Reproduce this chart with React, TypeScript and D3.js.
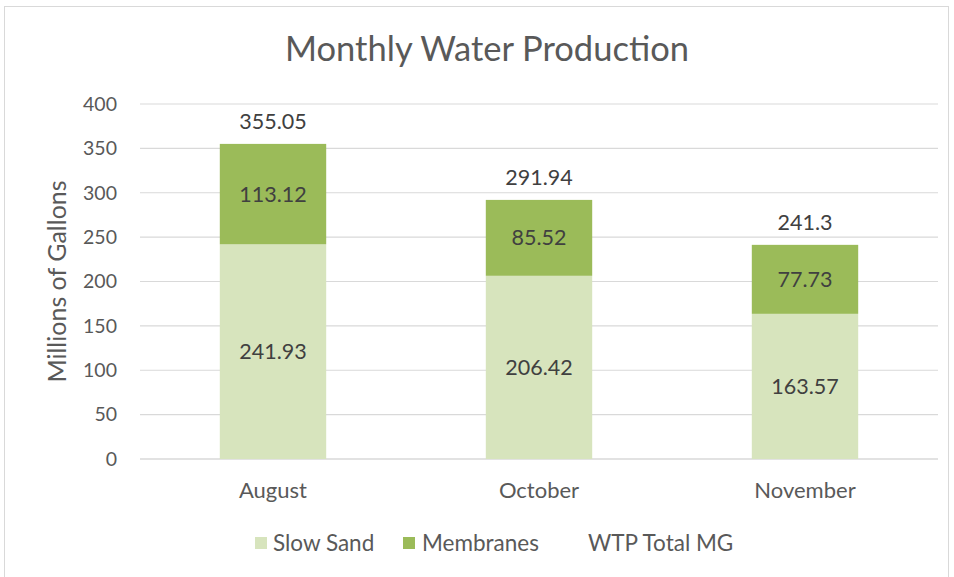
import React from "react";
import * as d3 from "d3";

const months = ["August", "October", "November"];
const slowSand = [241.93, 206.42, 163.57];
const membranes = [113.12, 85.52, 77.73];
const totals = [355.05, 291.94, 241.3];
const yTicks = [0, 50, 100, 150, 200, 250, 300, 350, 400];

const W = 954;
const H = 577;
const FONT = "Lato, 'Open Sans', sans-serif";
const SAND = "#D7E4BD";
const MEMB = "#9BBB59";

const App = () => {
  const x = d3.scaleBand().domain(months).range([140, 938]).paddingInner(0.6).paddingOuter(0.3);
  const y = d3.scaleLinear().domain([0, 400]).range([459, 104]);

  const stack = d3
    .stack<any>()
    .keys(["sand", "memb"])(months.map((m, i) => ({ m, sand: slowSand[i], memb: membranes[i] })));
  const fills = [SAND, MEMB];
  const vals = [slowSand, membranes];

  return (
    <svg width={W} height={H} style={{ position: "absolute", left: 0, top: 0 }} fontFamily={FONT}>
      <rect x={4.5} y={6.5} width={944} height={580} fill="#fff" stroke="#d9d9d9" />
      <text x={487} y={61} textAnchor="middle" fontSize={34.5} fill="#595959">
        Monthly Water Production
      </text>
      {yTicks.map((t) => (
        <g key={t}>
          <line x1={140} x2={938} y1={y(t)} y2={y(t)} stroke="#d9d9d9" strokeWidth={t === 0 ? 1.5 : 1.2} />
          <text x={117} y={y(t)} dy="0.35em" textAnchor="end" fontSize={19.5} fill="#595959">
            {t}
          </text>
        </g>
      ))}
      <text
        transform={`translate(66,${y(200)}) rotate(-90)`}
        textAnchor="middle"
        fontSize={25}
        fill="#595959"
      >
        Millions of Gallons
      </text>
      {stack.map((layer, li) =>
        layer.map((d, i) => (
          <g key={`${li}-${i}`}>
            <rect
              x={x(months[i])}
              y={y(d[1])}
              width={x.bandwidth()}
              height={y(d[0]) - y(d[1])}
              fill={fills[li]}
            />
            <text
              x={x(months[i])! + x.bandwidth() / 2}
              y={(y(d[0]) + y(d[1])) / 2}
              dy="0.35em"
              textAnchor="middle"
              fontSize={21.5}
              fill="#404040"
            >
              {vals[li][i]}
            </text>
          </g>
        ))
      )}
      {months.map((m, i) => (
        <text
          key={m}
          x={x(m)! + x.bandwidth() / 2}
          y={y(totals[i]) - 22}
          dy="0.35em"
          textAnchor="middle"
          fontSize={21.5}
          fill="#404040"
        >
          {totals[i]}
        </text>
      ))}
      {months.map((m) => (
        <text key={m} x={x(m)! + x.bandwidth() / 2} y={490} dy="0.35em" textAnchor="middle" fontSize={22} fill="#595959">
          {m}
        </text>
      ))}
      <g fontSize={22.5} fill="#595959">
        <rect x={255} y={537} width={12} height={12} fill={SAND} />
        <text x={273} y={543} dy="0.35em">Slow Sand</text>
        <rect x={403} y={537} width={12} height={12} fill={MEMB} />
        <text x={422} y={543} dy="0.35em">Membranes</text>
        <text x={588} y={543} dy="0.35em">WTP Total MG</text>
      </g>
    </svg>
  );
};

export default App;
